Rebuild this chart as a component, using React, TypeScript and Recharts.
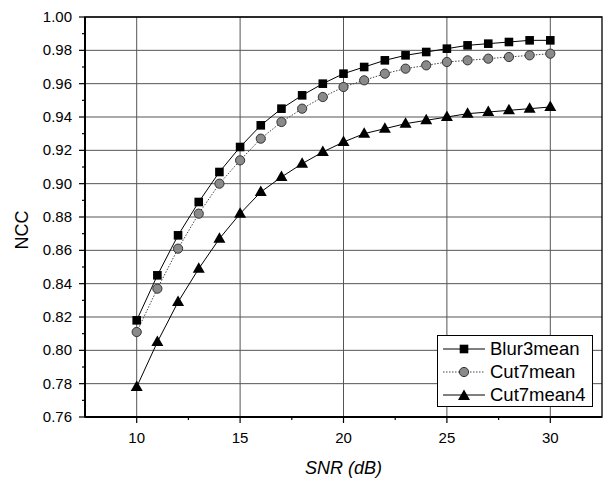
import React from 'react';
import {
  CartesianGrid,
  Legend,
  Line,
  LineChart,
  ReferenceArea,
  XAxis,
  YAxis,
} from 'recharts';

const snr = [10, 11, 12, 13, 14, 15, 16, 17, 18, 19, 20, 21, 22, 23, 24, 25, 26, 27, 28, 29, 30];
const blur3mean = [
  0.818, 0.845, 0.869, 0.889, 0.907, 0.922, 0.935, 0.945, 0.953, 0.96, 0.966,
  0.97, 0.974, 0.977, 0.979, 0.981, 0.983, 0.984, 0.985, 0.986, 0.986,
];
const cut7mean = [
  0.811, 0.837, 0.861, 0.882, 0.9, 0.914, 0.927, 0.937, 0.945, 0.952, 0.958,
  0.962, 0.966, 0.969, 0.971, 0.973, 0.974, 0.975, 0.976, 0.977, 0.978,
];
const cut7mean4 = [
  0.778, 0.805, 0.829, 0.849, 0.867, 0.882, 0.895, 0.904, 0.912, 0.919, 0.925,
  0.93, 0.933, 0.936, 0.938, 0.94, 0.942, 0.943, 0.944, 0.945, 0.946,
];

const xTicks = [10, 12.5, 15, 17.5, 20, 22.5, 25, 27.5, 30];
const xMajor = [10, 15, 20, 25, 30];
const yTicks = [
  0.76, 0.77, 0.78, 0.79, 0.8, 0.81, 0.82, 0.83, 0.84, 0.85, 0.86, 0.87, 0.88,
  0.89, 0.9, 0.91, 0.92, 0.93, 0.94, 0.95, 0.96, 0.97, 0.98, 0.99, 1.0,
];
const yMajor = [0.76, 0.78, 0.8, 0.82, 0.84, 0.86, 0.88, 0.9, 0.92, 0.94, 0.96, 0.98, 1.0];

const data = snr.map((x, i) => ({
  snr: x,
  blur3mean: blur3mean[i],
  cut7mean: cut7mean[i],
  cut7mean4: cut7mean4[i],
}));

const FONT = '"Liberation Sans", Arial, sans-serif';

// marker shapes
const Square = ({ cx, cy }: { cx?: number; cy?: number }) => (
  <rect x={(cx ?? 0) - 4.3} y={(cy ?? 0) - 4.3} width={8.6} height={8.6} fill="#000" />
);
const Circle = ({ cx, cy }: { cx?: number; cy?: number }) => (
  <circle cx={cx} cy={cy} r={4.6} fill="#8a8a8a" stroke="#333" strokeWidth={1} />
);
const Triangle = ({ cx, cy }: { cx?: number; cy?: number }) => {
  const x = cx ?? 0;
  const y = cy ?? 0;
  return <path d={`M${x} ${y - 6.5}L${x + 6} ${y + 4}L${x - 6} ${y + 4}Z`} fill="#000" />;
};

const XTick = (props: any) => {
  const { x, y, payload } = props;
  const major = xMajor.includes(payload.value);
  return (
    <g>
      <line x1={x} x2={x} y1={y} y2={y + (major ? 6 : 3)} stroke="#000" strokeWidth={1.2} />
      {major && (
        <text x={x} y={y + 26} textAnchor="middle" fontSize={15} fontFamily={FONT} fill="#000">
          {payload.value}
        </text>
      )}
    </g>
  );
};

const YTick = (props: any) => {
  const { x, y, payload } = props;
  const major = yMajor.some(v => Math.abs(v - payload.value) < 1e-6);
  return (
    <g>
      <line x1={x} x2={x - (major ? 6 : 3)} y1={y} y2={y} stroke="#000" strokeWidth={1.2} />
      {major && (
        <text x={x - 13} y={y + 5} textAnchor="end" fontSize={15} fontFamily={FONT} fill="#000">
          {payload.value.toFixed(2)}
        </text>
      )}
    </g>
  );
};

// y axis title, placed like the original
const NccLabel = () => (
  <text
    x={28}
    y={230}
    transform="rotate(-90 28 230)"
    textAnchor="middle"
    fontSize={18}
    fontFamily={FONT}
    fill="#000"
  >
    NCC
  </text>
);

const legendItems = [
  { name: 'Blur3mean', marker: 'square', dash: undefined, color: '#000' },
  { name: 'Cut7mean', marker: 'circle', dash: '1.5 1.5', color: '#444' },
  { name: 'Cut7mean4', marker: 'triangle', dash: undefined, color: '#000' },
];

const LegendBox = () => (
  <div
    style={{
      width: 156,
      height: 72,
      border: '1px solid #000',
      background: '#fff',
      boxSizing: 'border-box',
      paddingTop: 1,
      fontFamily: FONT,
    }}
  >
    {legendItems.map(item => (
      <div key={item.name} style={{ display: 'flex', alignItems: 'center', height: 23.4 }}>
        <svg width={52} height={20} style={{ display: 'block' }}>
          <line x1={5} x2={47} y1={10} y2={10} stroke={item.color} strokeWidth={1} strokeDasharray={item.dash} />
          {item.marker === 'square' && <Square cx={26} cy={10} />}
          {item.marker === 'circle' && <Circle cx={26} cy={10} />}
          {item.marker === 'triangle' && <Triangle cx={26} cy={11} />}
        </svg>
        <span style={{ fontSize: 18.5, color: '#000', lineHeight: '20px' }}>{item.name}</span>
      </div>
    ))}
  </div>
);

const App: React.FC = () => {
  return (
    <div style={{ position: 'absolute', left: 0, top: 0, width: 607, height: 480, background: '#fff' }}>
      <LineChart
        width={607}
        height={480}
        data={data}
        margin={{ top: 17, right: 5, bottom: 0, left: 0 }}
      >
        <CartesianGrid
          stroke="#555"
          strokeWidth={1}
          verticalValues={xMajor}
          horizontalValues={yMajor}
        />
        <ReferenceArea x1={7.5} x2={32.5} y1={0.76} y2={1.0} fill="none" stroke="#000" strokeWidth={1.3} />
        <XAxis
          dataKey="snr"
          type="number"
          domain={[7.5, 32.5]}
          ticks={xTicks}
          interval={0}
          tick={<XTick />}
          tickLine={false}
          tickSize={0}
          tickMargin={0}
          axisLine={{ stroke: '#000', strokeWidth: 2 }}
          height={63}
          label={{
            value: 'SNR (dB)',
            position: 'insideBottom',
            offset: 6,
            fontSize: 18,
            fontStyle: 'italic',
            fontFamily: FONT,
            fill: '#000',
          }}
        />
        <YAxis
          type="number"
          domain={[0.76, 1.0]}
          ticks={yTicks}
          interval={0}
          tick={<YTick />}
          tickLine={false}
          tickSize={0}
          tickMargin={0}
          axisLine={{ stroke: '#000', strokeWidth: 2 }}
          width={85}
          label={<NccLabel />}
        />
        <Legend
          layout="horizontal"
          verticalAlign="middle"
          align="center"
          content={<LegendBox />}
          wrapperStyle={{ position: 'absolute', left: 437, top: 335, width: 156, height: 72 }}
        />
        <Line
          type="linear"
          dataKey="cut7mean4"
          name="Cut7mean4"
          stroke="#000"
          strokeWidth={1}
          dot={(p: any) => <Triangle key={`t${p.index}`} cx={p.cx} cy={p.cy} />}
          activeDot={false}
          isAnimationActive={false}
        />
        <Line
          type="linear"
          dataKey="cut7mean"
          name="Cut7mean"
          stroke="#444"
          strokeWidth={1}
          strokeDasharray="1.5 1.5"
          dot={(p: any) => <Circle key={`c${p.index}`} cx={p.cx} cy={p.cy} />}
          activeDot={false}
          isAnimationActive={false}
        />
        <Line
          type="linear"
          dataKey="blur3mean"
          name="Blur3mean"
          stroke="#000"
          strokeWidth={1}
          dot={(p: any) => <Square key={`s${p.index}`} cx={p.cx} cy={p.cy} />}
          activeDot={false}
          isAnimationActive={false}
        />
      </LineChart>
    </div>
  );
};

export default App;
